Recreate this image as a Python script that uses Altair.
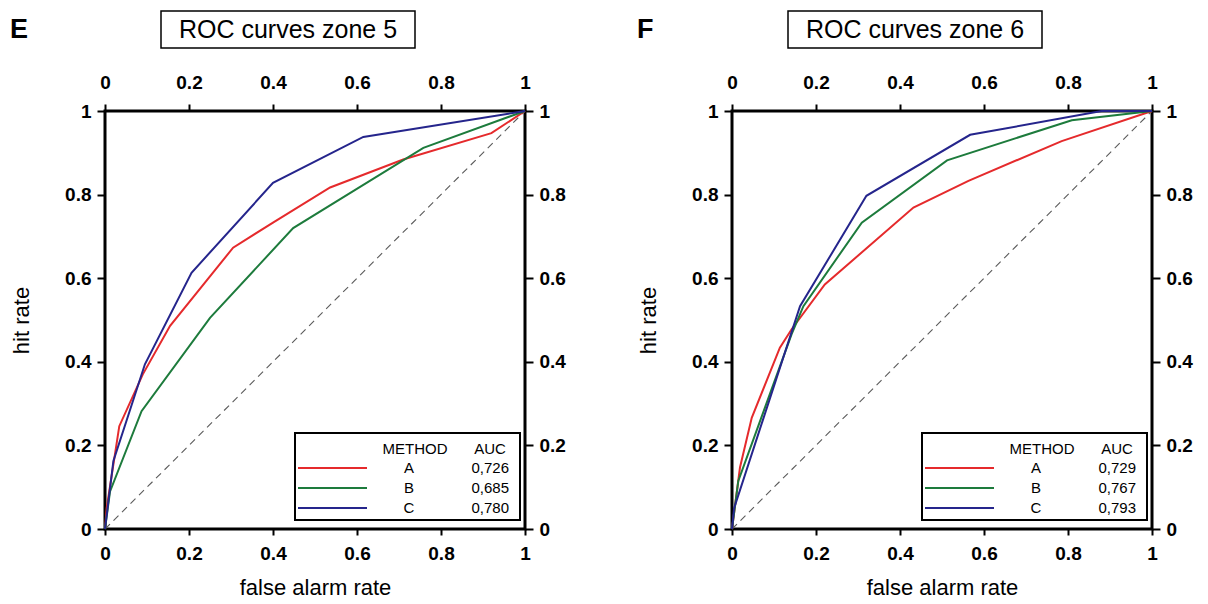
import altair as alt
import pandas as pd

methods = ["A", "B", "C"]
colors = ["#e52a2c", "#1d7b3c", "#25258c"]
tick_values = [0, 0.2, 0.4, 0.6, 0.8, 1]

# zone 5
z5_A_fpr = [0, 0.004, 0.034, 0.09, 0.155, 0.305, 0.40, 0.536, 0.71, 0.92, 1.0]
z5_A_tpr = [0, 0.05, 0.246, 0.37, 0.486, 0.673, 0.733, 0.817, 0.884, 0.947, 1.0]
z5_B_fpr = [0, 0.012, 0.087, 0.25, 0.448, 0.758, 1.0]
z5_B_tpr = [0, 0.09, 0.282, 0.505, 0.72, 0.912, 1.0]
z5_C_fpr = [0, 0.02, 0.095, 0.206, 0.40, 0.615, 1.0]
z5_C_tpr = [0, 0.163, 0.394, 0.613, 0.828, 0.938, 1.0]
z5_auc = ["0,726", "0,685", "0,780"]

# zone 6
z6_A_fpr = [0, 0.019, 0.047, 0.114, 0.142, 0.221, 0.432, 0.563, 0.785, 1.0]
z6_A_tpr = [0, 0.147, 0.266, 0.434, 0.478, 0.585, 0.769, 0.833, 0.928, 1.0]
z6_B_fpr = [0, 0.015, 0.142, 0.17, 0.309, 0.512, 0.809, 1.0]
z6_B_tpr = [0, 0.115, 0.466, 0.533, 0.733, 0.882, 0.978, 1.0]
z6_C_fpr = [0, 0.005, 0.162, 0.32, 0.567, 0.88, 1.0]
z6_C_tpr = [0, 0.05, 0.533, 0.797, 0.943, 1.0, 1.0]
z6_auc = ["0,729", "0,767", "0,793"]

W, H = 420, 418
FONT = "Liberation Sans"


def panel(letter, title, curves, aucs):
    rows = []
    for m, (fx, fy) in zip(methods, curves):
        for i, (a, b) in enumerate(zip(fx, fy)):
            rows.append({"method": m, "fpr": a, "tpr": b, "ord": i})
    df = pd.DataFrame(rows)
    xs = alt.Scale(domain=[0, 1], nice=False)
    ys = alt.Scale(domain=[0, 1], nice=False)

    lines = alt.Chart(df).mark_line(strokeWidth=2).encode(
        x=alt.X("fpr:Q", scale=xs, axis=alt.Axis(
            orient="bottom", values=tick_values, format="~g",
            title="false alarm rate", tickSize=6, labelPadding=9,
            titlePadding=14, labelFlush=False)),
        y=alt.Y("tpr:Q", scale=ys, axis=alt.Axis(
            orient="left", values=tick_values, format="~g",
            title="hit rate", tickSize=8, labelPadding=6,
            titlePadding=31, labelFlush=False)),
        color=alt.Color("method:N", scale=alt.Scale(domain=methods, range=colors), legend=None),
        order="ord:Q",
    )

    diag_df = pd.DataFrame({"x0": [0], "y0": [0], "x1": [1], "y1": [1]})
    diag = alt.Chart(diag_df).mark_rule(color="#5a5a5a", strokeDash=[7, 5], strokeWidth=1.1).encode(
        x=alt.X("x0:Q", scale=xs, axis=alt.Axis(
            orient="top", values=tick_values, format="~g", title=None,
            tickSize=7, labelPadding=12, labelFlush=False)),
        y=alt.Y("y0:Q", scale=ys, axis=alt.Axis(
            orient="right", values=tick_values, format="~g", title=None,
            tickSize=8, labelPadding=6, labelFlush=False)),
        x2="x1:Q",
        y2="y1:Q",
    )

    one = pd.DataFrame({"k": [0]})
    deco = []
    # panel title box
    deco.append(alt.Chart(one).mark_rect(fill="white", stroke="black", strokeWidth=1.5).encode(
        x=alt.value(56), x2=alt.value(310), y=alt.value(-100), y2=alt.value(-63)))
    deco.append(alt.Chart(one).mark_text(text=title, fontSize=25, font=FONT, align="center",
                                         baseline="middle", color="black").encode(
        x=alt.value(183), y=alt.value(-81)))
    deco.append(alt.Chart(one).mark_text(text=letter, fontSize=27, font=FONT, fontWeight="bold",
                                         align="left", baseline="alphabetic", color="black").encode(
        x=alt.value(-95), y=alt.value(-73)))
    # legend box
    deco.append(alt.Chart(one).mark_rect(fill="white", stroke="black", strokeWidth=2).encode(
        x=alt.value(190), x2=alt.value(415), y=alt.value(322), y2=alt.value(409)))
    deco.append(alt.Chart(one).mark_text(text="METHOD", fontSize=15, font=FONT, align="center",
                                         baseline="middle", color="black").encode(
        x=alt.value(310), y=alt.value(338)))
    deco.append(alt.Chart(one).mark_text(text="AUC", fontSize=15, font=FONT, align="center",
                                         baseline="middle", color="black").encode(
        x=alt.value(385), y=alt.value(338)))
    for i, (m, a, c) in enumerate(zip(methods, aucs, colors)):
        yy = 357 + 20 * i
        deco.append(alt.Chart(one).mark_rule(color=c, strokeWidth=2).encode(
            x=alt.value(193), x2=alt.value(262), y=alt.value(yy)))
        deco.append(alt.Chart(one).mark_text(text=m, fontSize=15, font=FONT, align="center",
                                             baseline="middle", color="black").encode(
            x=alt.value(304), y=alt.value(yy)))
        deco.append(alt.Chart(one).mark_text(text=a, fontSize=15, font=FONT, align="right",
                                             baseline="middle", color="black").encode(
            x=alt.value(404), y=alt.value(yy)))

    return alt.layer(diag, lines, *deco).resolve_axis(x="independent", y="independent").properties(
        width=W, height=H)


left = panel("E", "ROC curves zone 5",
             [(z5_A_fpr, z5_A_tpr), (z5_B_fpr, z5_B_tpr), (z5_C_fpr, z5_C_tpr)], z5_auc)
right = panel("F", "ROC curves zone 6",
              [(z6_A_fpr, z6_A_tpr), (z6_B_fpr, z6_B_tpr), (z6_C_fpr, z6_C_tpr)], z6_auc)

chart = alt.hconcat(left, right, spacing=68).properties(padding=0, background="white").configure_view(
    stroke="black", strokeWidth=3
).configure_axis(
    labelFont=FONT, labelFontSize=19, labelFontWeight="bold", labelColor="black",
    tickColor="black", tickWidth=2, domain=False, grid=False,
    titleFont=FONT, titleFontSize=22, titleFontWeight="normal", titleColor="black",
)

chart.save("out.html", embed_options={"renderer": "svg", "actions": False})
